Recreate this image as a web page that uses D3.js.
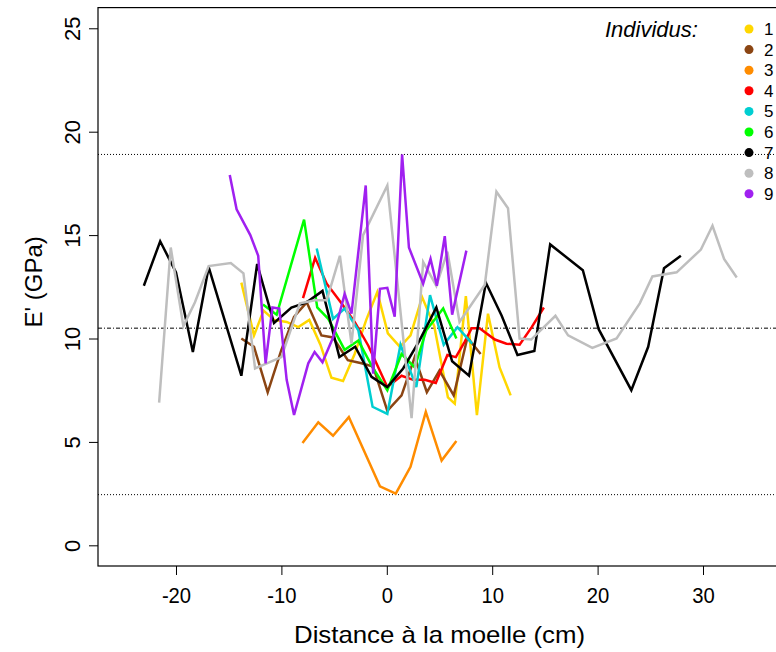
<!DOCTYPE html>
<html><head><meta charset="utf-8">
<script src="https://cdn.jsdelivr.net/npm/d3@7"></script>
<style>body{margin:0;background:#fff}svg{display:block}text{font-family:"Liberation Sans",Arial,sans-serif}</style>
</head><body>
<svg id="chart" width="776" height="652"></svg>
<script>
// ---- data ----
const individus = ["1","2","3","4","5","6","7","8","9"];
const colors = ["#FFD700","#8B4513","#FF8C00","#FF0000","#00CED1","#00FF00","#000000","#BEBEBE","#A020F0"];
const xTicks = [-20,-10,0,10,20,30];
const yTicks = [0,5,10,15,20,25];
const refLines = [18.9, 10.5, 2.45];

const dist1 = [-13.8,-12.6,-11.7,-10.7,-9.5,-8.4,-7.35,-6.3,-5.25,-4.15,-3.05,-1.95,-0.9,0.1,1.25,2.25,3.35,4.5,5.8,6.45,7.5,8.55,9.6,10.7,11.75];
const E1    = [12.7,10.15,11.35,10.9,10.8,10.55,10.9,9.7,8.1,7.95,9.25,10.9,12.25,10.25,9.6,10.15,12.0,10.6,7.15,6.85,12.05,6.3,11.2,8.6,7.25];
const dist2 = [-13.8,-12.6,-11.3,-10.0,-8.8,-7.6,-6.2,-5.1,-3.7,-2.4,-1.3,0.05,1.4,2.65,3.8,5.0,6.35,7.65,8.9];
const E2    = [10.0,9.6,7.4,9.45,11.05,11.75,10.15,10.05,8.95,8.8,8.65,6.5,7.25,9.1,7.4,8.45,7.25,10.05,9.25];
const dist3 = [-8.0,-6.5,-5.1,-3.6,-0.65,0.85,2.25,3.7,5.2,6.6];
const E3    = [4.95,5.95,5.3,6.2,2.85,2.5,3.8,6.45,4.1,5.05];
const dist4 = [-7.95,-6.8,-5.7,-4.3,-3.05,-1.75,0.05,1.4,2.5,3.6,4.65,5.75,6.55,7.4,8.05,8.8,10.25,11.35,12.6,13.75,14.9];
const E4    = [11.95,13.9,12.65,11.7,10.8,9.65,7.65,8.2,8.0,8.0,7.85,9.2,9.1,9.85,10.5,10.5,9.95,9.75,9.7,10.55,11.5];
const dist5 = [-6.65,-5.1,-4.0,-2.7,-1.35,0.05,1.3,2.8,4.1,5.4,6.7,8.1];
const E5    = [14.35,10.95,11.45,10.4,6.7,6.35,9.7,7.65,12.1,9.7,10.55,9.75];
const dist6 = [-11.75,-10.45,-7.85,-6.6,-5.55,-4.0,-2.7,-1.35,0.05,1.4,2.65,3.75,5.35,6.6];
const E6    = [11.65,11.15,15.75,11.5,10.95,9.45,9.9,8.6,7.5,9.25,8.6,10.4,11.45,10.0];
const dist7 = [-23.05,-21.5,-20.0,-18.4,-16.9,-13.8,-12.3,-10.7,-9.05,-7.6,-6.1,-4.5,-3.0,-1.45,0.05,1.55,3.1,4.7,6.2,7.8,9.4,10.9,12.4,14.0,15.5,18.6,20.1,23.2,24.8,26.3,27.9];
const E7    = [12.55,14.7,13.2,9.35,13.45,8.2,13.6,10.75,11.5,11.75,12.3,9.1,9.6,8.15,7.65,8.55,9.9,11.5,8.9,8.2,12.7,11.1,9.2,9.4,14.55,13.3,10.45,7.5,9.6,13.4,14.0];
const dist8 = [-21.6,-20.5,-19.3,-18.2,-16.9,-14.8,-13.6,-12.5,-10.0,-8.25,-6.8,-5.7,-4.45,-3.35,-2.25,0.05,2.35,3.45,4.7,5.75,6.9,9.3,10.4,11.5,12.6,13.7,16.0,17.2,19.5,21.8,24.0,25.2,27.5,29.8,30.9,32.0,33.2];
const E8    = [6.9,14.4,10.6,11.75,13.5,13.65,13.15,8.55,9.1,11.7,11.85,11.85,14.0,9.75,15.0,17.4,6.15,13.7,12.55,14.2,10.8,12.6,17.1,16.3,10.0,9.95,11.1,10.15,9.55,10.0,11.7,13.0,13.2,14.3,15.45,13.85,12.95];
const dist9 = [-14.9,-14.25,-12.95,-12.2,-11.5,-10.85,-10.2,-9.5,-8.8,-7.45,-6.85,-6.1,-5.1,-4.0,-3.35,-2.0,-1.3,-0.65,0.05,0.75,1.45,2.1,3.45,4.15,4.75,5.5,6.2,7.55];
const E9    = [17.9,16.25,15.0,14.0,8.8,11.5,11.45,8.0,6.3,8.8,9.35,8.85,10.05,12.15,11.2,17.4,8.3,12.4,12.45,11.05,18.9,14.4,12.65,13.85,12.55,14.95,11.15,14.25];

const dists = [dist1,dist2,dist3,dist4,dist5,dist6,dist7,dist8,dist9];
const Es = [E1,E2,E3,E4,E5,E6,E7,E8,E9];

// ---- layout ----
const svg = d3.select("#chart");
const L = 98, R = 781, T = 7.6, B = 566;
const x = d3.scaleLinear().domain([-27.4, 37.4]).range([L, R]);
const y = d3.scaleLinear().domain([-1, 26]).range([B, T]);

// reference lines
svg.selectAll("line.ref").data(refLines).join("line")
  .attr("x1", L).attr("x2", R)
  .attr("y1", d => y(d)).attr("y2", d => y(d))
  .attr("stroke", "#000").attr("stroke-width", 1)
  .attr("stroke-dasharray", (d,i) => i === 1 ? "4,2,1,2" : "1,2");

// series lines
const line = d3.line().x(d => x(d[0])).y(d => y(d[1]));
individus.forEach((id, i) => {
  const pts = dists[i].map((d, j) => [d, Es[i][j]]);
  svg.append("path").datum(pts)
    .attr("d", line).attr("fill", "none")
    .attr("stroke", colors[i]).attr("stroke-width", 2.5)
    .attr("stroke-linejoin", "miter").attr("stroke-miterlimit", 4);
});

// box
svg.append("rect").attr("x", L).attr("y", T).attr("width", R - L).attr("height", B - T)
  .attr("fill", "none").attr("stroke", "#000").attr("stroke-width", 1.2);

// x axis
const gx = svg.append("g").attr("transform", `translate(0,${B})`)
  .call(d3.axisBottom(x).tickValues(xTicks).tickSize(9).tickPadding(12).tickFormat(d => String(d)));
gx.select(".domain").remove();
gx.selectAll("line").attr("stroke", "#000");
gx.selectAll("text").attr("font-size", 22).attr("fill", "#000")
  .attr("font-family", "Liberation Sans, Arial, sans-serif")
  .attr("transform", "scale(0.92,1)");

// y axis
const gy = svg.append("g").attr("transform", `translate(${L},0)`)
  .call(d3.axisLeft(y).tickValues(yTicks).tickSize(9).tickFormat(d => String(d)));
gy.select(".domain").remove();
gy.selectAll("line").attr("stroke", "#000");
gy.selectAll("text").attr("font-size", 22).attr("fill", "#000")
  .attr("font-family", "Liberation Sans, Arial, sans-serif")
  .attr("text-anchor", "middle").attr("dy", 0).attr("x", null)
  .attr("transform", "translate(-18,0) rotate(-90)");

// axis titles
svg.append("text").attr("x", (L + R) / 2).attr("y", 643)
  .attr("text-anchor", "middle").attr("font-size", 24)
  .attr("textLength", 291).attr("lengthAdjust", "spacingAndGlyphs")
  .text("Distance à la moelle (cm)");
svg.append("text").attr("transform", `translate(42,${(T + B) / 2 - 5}) rotate(-90)`)
  .attr("text-anchor", "middle").attr("font-size", 24)
  .text("E' (GPa)");

// legend
svg.append("text").attr("x", 605).attr("y", 37)
  .attr("font-size", 22).attr("font-style", "italic").text("Individus:");
const lg = svg.selectAll("g.leg").data(individus).join("g")
  .attr("transform", (d, i) => `translate(749,${29 + i * 20.6})`);
lg.append("circle").attr("r", 4.5).attr("fill", (d, i) => colors[i]);
lg.append("text").attr("x", 15).attr("y", 6).attr("font-size", 17).text(d => d);
</script>
</body></html>
